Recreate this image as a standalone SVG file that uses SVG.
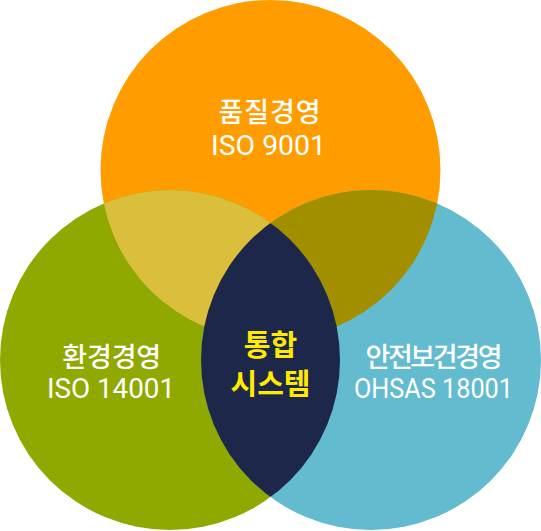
<svg xmlns="http://www.w3.org/2000/svg" width="541" height="531" viewBox="0 0 541 531">
<style>
.lbl{fill:#ffffff;text-anchor:middle}
.ko{font-family:"Noto Sans CJK KR","Noto Sans",sans-serif;font-size:27px;font-weight:500}
.en{font-family:Roboto,"Noto Sans CJK KR",sans-serif;font-size:28px}
.core{font-family:"Noto Sans CJK KR",sans-serif;font-size:29px;font-weight:bold;fill:#ffea00;text-anchor:middle}
</style>
<defs>
<clipPath id="cTop"><circle cx="270.5" cy="170" r="170"/></clipPath>
<clipPath id="cLeft"><circle cx="170" cy="360" r="170"/></clipPath>
</defs>
<g id="quality"><circle cx="270.5" cy="170" r="170" fill="#ff9d00"/></g>
<g id="environment"><circle cx="170" cy="360" r="170" fill="#8fa900"/></g>
<g id="safety"><circle cx="371" cy="360" r="170" fill="#63bbcf"/></g>
<g id="overlap-quality-environment"><circle cx="170" cy="360" r="170" fill="#dabe3c" clip-path="url(#cTop)"/></g>
<g id="overlap-quality-safety"><circle cx="371" cy="360" r="170" fill="#a28f00" clip-path="url(#cTop)"/></g>
<g id="integrated"><circle cx="371" cy="360" r="170" fill="#1d2749" clip-path="url(#cLeft)"/></g>
<g id="connectors"></g>
<g id="labels">
<text class="lbl ko" x="269.5" y="122" textLength="102" lengthAdjust="spacing">품질경영</text>
<text class="lbl en" x="268.5" y="155" textLength="115" lengthAdjust="spacingAndGlyphs">ISO 9001</text>
<text class="lbl ko" x="111.7" y="366.5" textLength="99" lengthAdjust="spacing">환경경영</text>
<text class="lbl en" x="111" y="398" textLength="128" lengthAdjust="spacingAndGlyphs">ISO 14001</text>
<text class="lbl ko" x="434" y="366.5" textLength="137" lengthAdjust="spacing">안전보건경영</text>
<text class="lbl en" x="433.5" y="398" textLength="159" lengthAdjust="spacingAndGlyphs">OHSAS 18001</text>
<text class="core" x="270.5" y="356">통합</text>
<text class="core" x="270.5" y="395">시스템</text>
</g>
</svg>
